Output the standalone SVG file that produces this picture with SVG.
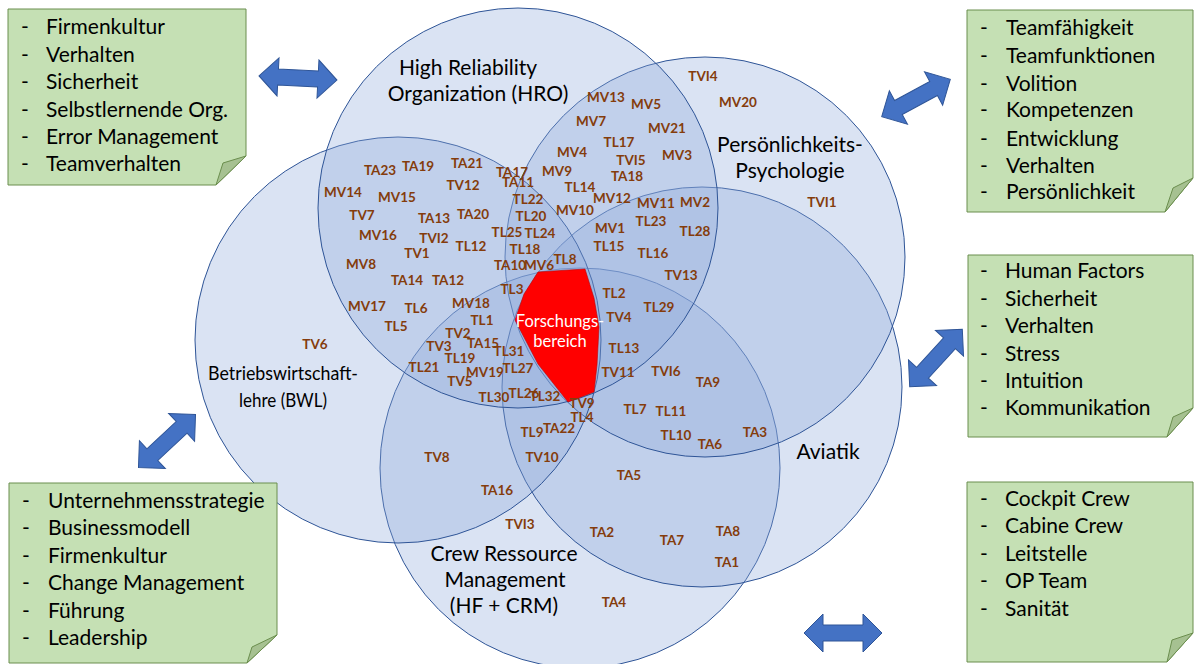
<svg xmlns="http://www.w3.org/2000/svg" width="1194" height="664" viewBox="0 0 1194 664">
  <defs>
    <style>
      .circle { fill: #8CA8DA; fill-opacity: 0.32; stroke: #2F5597; stroke-width: 1; }
      .lbl { font-family: Lato, "Liberation Sans", sans-serif; font-size: 21px; fill: #000; text-anchor: middle; }
      .lbl-s { font-size: 20px; }
      .code { font-family: Lato, "Liberation Sans", sans-serif; font-weight: bold; font-size: 13.5px; fill: #843C0C; text-anchor: middle; }
      .focus { fill: #FF0000; stroke: #C00000; stroke-width: 0.6; }
      .focus-txt { font-family: Lato, "Liberation Sans", sans-serif; font-size: 16.5px; fill: #FFFFFF; text-anchor: middle; }
      .note { fill: #C5E0B4; stroke: #6B8E4E; stroke-width: 1; }
      .fold { fill: #A6C191; stroke: #6B8E4E; stroke-width: 1; }
      .ntxt { font-family: Lato, "Liberation Sans", sans-serif; font-size: 21px; fill: #000; }
      .arrow { fill: #4472C4; stroke: #2F5597; stroke-width: 1; }
    </style>
    <!-- double-headed block arrow, centred on the origin -->
    <path id="dbl" d="M -39 0 L -20 -19 L -20 -8 L 20 -8 L 20 -19 L 39 0 L 20 19 L 20 8 L -20 8 L -20 19 Z"/>
  </defs>

  <rect width="1194" height="664" fill="#FFFFFF"/>

  <!-- discipline circles -->
  <g id="crm"><circle class="circle" cx="580" cy="468" r="200"/></g>
  <g id="aviatik"><circle class="circle" cx="702" cy="387" r="200"/></g>
  <g id="psychologie"><circle class="circle" cx="705" cy="257" r="200"/></g>
  <g id="bwl"><circle class="circle" cx="398" cy="340" r="203"/></g>
  <g id="hro"><circle class="circle" cx="518" cy="208" r="200"/></g>

  <!-- research focus area -->
  <g id="forschungsbereich">
    <polygon class="focus" points="538,272 585,269 594,298 599,327 597,365 594,392 568,402 538,364 515,320 524,294"/>
    <text class="focus-txt" x="560" y="327">Forschungs-</text>
    <text class="focus-txt" x="560" y="347">bereich</text>
  </g>

  <!-- circle titles -->
  <g id="titles">
    <text class="lbl" x="468" y="75">High Reliability</text>
    <text class="lbl" x="478" y="101">Organization (HRO)</text>
    <text class="lbl" x="790" y="152">Persönlichkeits-</text>
    <text class="lbl" x="790" y="178">Psychologie</text>
    <text class="lbl lbl-s" x="283" y="380" textLength="150" lengthAdjust="spacingAndGlyphs">Betriebswirtschaft-</text>
    <text class="lbl lbl-s" x="283" y="407" textLength="88" lengthAdjust="spacingAndGlyphs">lehre (BWL)</text>
    <text class="lbl" x="828" y="459">Aviatik</text>
    <text class="lbl" x="504" y="561">Crew Ressource</text>
    <text class="lbl" x="505" y="587">Management</text>
    <text class="lbl" x="504" y="613">(HF + CRM)</text>
  </g>

  <!-- source codes -->
  <g id="codes">
    <text class="code" x="380" y="175">TA23</text>
    <text class="code" x="418" y="171">TA19</text>
    <text class="code" x="467" y="168">TA21</text>
    <text class="code" x="463" y="190">TV12</text>
    <text class="code" x="343" y="197">MV14</text>
    <text class="code" x="397" y="202">MV15</text>
    <text class="code" x="362" y="220">TV7</text>
    <text class="code" x="434" y="223">TA13</text>
    <text class="code" x="473" y="219">TA20</text>
    <text class="code" x="378" y="240">MV16</text>
    <text class="code" x="434" y="243">TVI2</text>
    <text class="code" x="471" y="251">TL12</text>
    <text class="code" x="417" y="258">TV1</text>
    <text class="code" x="507" y="237">TL25</text>
    <text class="code" x="361" y="269">MV8</text>
    <text class="code" x="407" y="285">TA14</text>
    <text class="code" x="448" y="285">TA12</text>
    <text class="code" x="367" y="311">MV17</text>
    <text class="code" x="416" y="313">TL6</text>
    <text class="code" x="471" y="308">MV18</text>
    <text class="code" x="396" y="331">TL5</text>
    <text class="code" x="482" y="325">TL1</text>
    <text class="code" x="703" y="81">TVI4</text>
    <text class="code" x="738" y="107">MV20</text>
    <text class="code" x="606" y="102">MV13</text>
    <text class="code" x="646" y="109">MV5</text>
    <text class="code" x="591" y="126">MV7</text>
    <text class="code" x="667" y="133">MV21</text>
    <text class="code" x="619" y="147">TL17</text>
    <text class="code" x="631" y="165">TVI5</text>
    <text class="code" x="677" y="160">MV3</text>
    <text class="code" x="572" y="157">MV4</text>
    <text class="code" x="557" y="176">MV9</text>
    <text class="code" x="627" y="181">TA18</text>
    <text class="code" x="512" y="177">TA17</text>
    <text class="code" x="518" y="187">TA11</text>
    <text class="code" x="580" y="192">TL14</text>
    <text class="code" x="612" y="203">MV12</text>
    <text class="code" x="656" y="208">MV11</text>
    <text class="code" x="695" y="207">MV2</text>
    <text class="code" x="528" y="204">TL22</text>
    <text class="code" x="575" y="215">MV10</text>
    <text class="code" x="531" y="221">TL20</text>
    <text class="code" x="651" y="226">TL23</text>
    <text class="code" x="540" y="238">TL24</text>
    <text class="code" x="610" y="233">MV1</text>
    <text class="code" x="695" y="236">TL28</text>
    <text class="code" x="525" y="254">TL18</text>
    <text class="code" x="609" y="251">TL15</text>
    <text class="code" x="653" y="258">TL16</text>
    <text class="code" x="510" y="270">TA10</text>
    <text class="code" x="539" y="270">MV6</text>
    <text class="code" x="565" y="264">TL8</text>
    <text class="code" x="681" y="280">TV13</text>
    <text class="code" x="822" y="207">TVI1</text>
    <text class="code" x="512" y="294">TL3</text>
    <text class="code" x="458" y="338">TV2</text>
    <text class="code" x="439" y="351">TV3</text>
    <text class="code" x="483" y="348">TA15</text>
    <text class="code" x="509" y="356">TL31</text>
    <text class="code" x="460" y="363">TL19</text>
    <text class="code" x="424" y="372">TL21</text>
    <text class="code" x="485" y="377">MV19</text>
    <text class="code" x="518" y="373">TL27</text>
    <text class="code" x="460" y="386">TV5</text>
    <text class="code" x="494" y="402">TL30</text>
    <text class="code" x="524" y="398">TL26</text>
    <text class="code" x="545" y="401">TL32</text>
    <text class="code" x="582" y="408">TV9</text>
    <text class="code" x="582" y="422">TL4</text>
    <text class="code" x="532" y="437">TL9</text>
    <text class="code" x="559" y="433">TA22</text>
    <text class="code" x="614" y="298">TL2</text>
    <text class="code" x="659" y="312">TL29</text>
    <text class="code" x="619" y="322">TV4</text>
    <text class="code" x="624" y="353">TL13</text>
    <text class="code" x="618" y="377">TV11</text>
    <text class="code" x="666" y="376">TVI6</text>
    <text class="code" x="708" y="387">TA9</text>
    <text class="code" x="635" y="414">TL7</text>
    <text class="code" x="671" y="416">TL11</text>
    <text class="code" x="676" y="440">TL10</text>
    <text class="code" x="710" y="449">TA6</text>
    <text class="code" x="755" y="437">TA3</text>
    <text class="code" x="437" y="462">TV8</text>
    <text class="code" x="542" y="462">TV10</text>
    <text class="code" x="629" y="480">TA5</text>
    <text class="code" x="497" y="495">TA16</text>
    <text class="code" x="520" y="529">TVI3</text>
    <text class="code" x="602" y="537">TA2</text>
    <text class="code" x="672" y="545">TA7</text>
    <text class="code" x="728" y="536">TA8</text>
    <text class="code" x="727" y="567">TA1</text>
    <text class="code" x="614" y="607">TA4</text>
    <text class="code" x="315" y="349">TV6</text>
  </g>

  <!-- topic notes -->
  <g id="note-hro">
    <polygon class="note" points="8,9 246,9 246,156 216,185 8,185"/>
    <polygon class="fold" points="216,185 223,163 246,156"/>
    <g class="ntxt">
      <text x="21" y="34">-</text><text x="46" y="34">Firmenkultur</text>
      <text x="21" y="62">-</text><text x="46" y="62">Verhalten</text>
      <text x="21" y="89">-</text><text x="46" y="89">Sicherheit</text>
      <text x="21" y="117">-</text><text x="46" y="117">Selbstlernende Org.</text>
      <text x="21" y="144">-</text><text x="46" y="144">Error Management</text>
      <text x="21" y="171">-</text><text x="46" y="171">Teamverhalten</text>
    </g>
  </g>

  <g id="note-psychologie">
    <polygon class="note" points="967,10 1193,10 1193,178 1165,212 967,212"/>
    <polygon class="fold" points="1165,212 1173,188 1193,178"/>
    <g class="ntxt">
      <text x="980" y="35">-</text><text x="1006" y="35">Teamfähigkeit</text>
      <text x="980" y="63">-</text><text x="1006" y="63">Teamfunktionen</text>
      <text x="980" y="91">-</text><text x="1006" y="91">Volition</text>
      <text x="980" y="117">-</text><text x="1006" y="117">Kompetenzen</text>
      <text x="980" y="146">-</text><text x="1006" y="146">Entwicklung</text>
      <text x="980" y="173">-</text><text x="1006" y="173">Verhalten</text>
      <text x="980" y="199">-</text><text x="1006" y="199">Persönlichkeit</text>
    </g>
  </g>

  <g id="note-aviatik">
    <polygon class="note" points="968,255 1193,255 1193,408 1167,437 968,437"/>
    <polygon class="fold" points="1167,437 1173,417 1193,408"/>
    <g class="ntxt">
      <text x="980" y="278">-</text><text x="1005" y="278">Human Factors</text>
      <text x="980" y="306">-</text><text x="1005" y="306">Sicherheit</text>
      <text x="980" y="333">-</text><text x="1005" y="333">Verhalten</text>
      <text x="980" y="361">-</text><text x="1005" y="361">Stress</text>
      <text x="980" y="388">-</text><text x="1005" y="388">Intuition</text>
      <text x="980" y="415">-</text><text x="1005" y="415">Kommunikation</text>
    </g>
  </g>

  <g id="note-bwl">
    <polygon class="note" points="9,483 277,483 277,635 247,663 9,663"/>
    <polygon class="fold" points="247,663 252,647 277,635"/>
    <g class="ntxt">
      <text x="22" y="508">-</text><text x="48" y="508">Unternehmensstrategie</text>
      <text x="22" y="535">-</text><text x="48" y="535">Businessmodell</text>
      <text x="22" y="563">-</text><text x="48" y="563">Firmenkultur</text>
      <text x="22" y="590">-</text><text x="48" y="590">Change Management</text>
      <text x="22" y="618">-</text><text x="48" y="618">Führung</text>
      <text x="22" y="645">-</text><text x="48" y="645">Leadership</text>
    </g>
  </g>

  <g id="note-crm">
    <polygon class="note" points="967,482 1193,482 1193,633 1167,662 967,662"/>
    <polygon class="fold" points="1167,662 1172,640 1193,633"/>
    <g class="ntxt">
      <text x="980" y="506">-</text><text x="1005" y="506">Cockpit Crew</text>
      <text x="980" y="533">-</text><text x="1005" y="533">Cabine Crew</text>
      <text x="980" y="561">-</text><text x="1005" y="561">Leitstelle</text>
      <text x="980" y="588">-</text><text x="1005" y="588">OP Team</text>
      <text x="980" y="616">-</text><text x="1005" y="616">Sanität</text>
    </g>
  </g>

  <!-- connectors: double arrows between notes and circles -->
  <g id="connectors">
    <use href="#dbl" class="arrow" transform="translate(298,78) rotate(3)"/>
    <use href="#dbl" class="arrow" transform="translate(916,98) rotate(-28.5)"/>
    <use href="#dbl" class="arrow" transform="translate(936,358) rotate(-47.6)"/>
    <use href="#dbl" class="arrow" transform="translate(167,441) rotate(-43)"/>
    <use href="#dbl" class="arrow" transform="translate(843,633)"/>
  </g>
</svg>
